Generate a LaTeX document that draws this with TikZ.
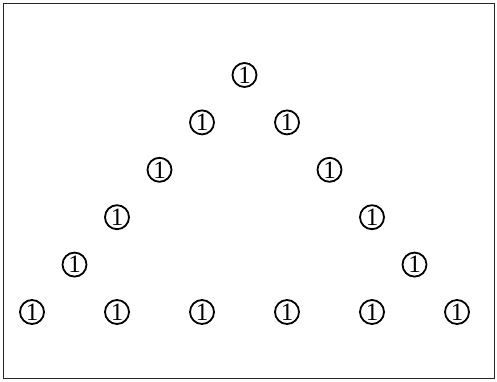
\documentclass[tikz,border=0pt]{standalone}
\usepackage{fontspec}
\setmainfont{Liberation Serif}
\newcommand{\bigone}{\fontsize{25}{25}\selectfont 1}
\begin{document}
\begin{tikzpicture}[x=1pt,y=-1pt,
  onebox/.style={circle,draw,line width=1.8pt,minimum size=24pt,inner sep=0pt}]
\useasboundingbox (0,0) rectangle (497,381);
\draw[line width=1pt,black!85] (3.5,3.5) rectangle (494.5,378.5);
\def\dx{42.5}
\def\dy{47.4}
% top
\node[onebox] (t) at (244.5,75) {\bigone};
% sides
\foreach \k in {1,...,5}{
  \node[onebox] (l\k) at ({244.5-\k*\dx},{75+\k*\dy}) {\bigone};
  \node[onebox] (r\k) at ({244.5+\k*\dx},{75+\k*\dy}) {\bigone};
}
% bottom middle
\node[onebox] (b1) at (117,312) {\bigone};
\node[onebox] (b2) at (202,312) {\bigone};
\node[onebox] (b3) at (287,312) {\bigone};
\node[onebox] (b4) at (372,312) {\bigone};
\end{tikzpicture}
\end{document}
